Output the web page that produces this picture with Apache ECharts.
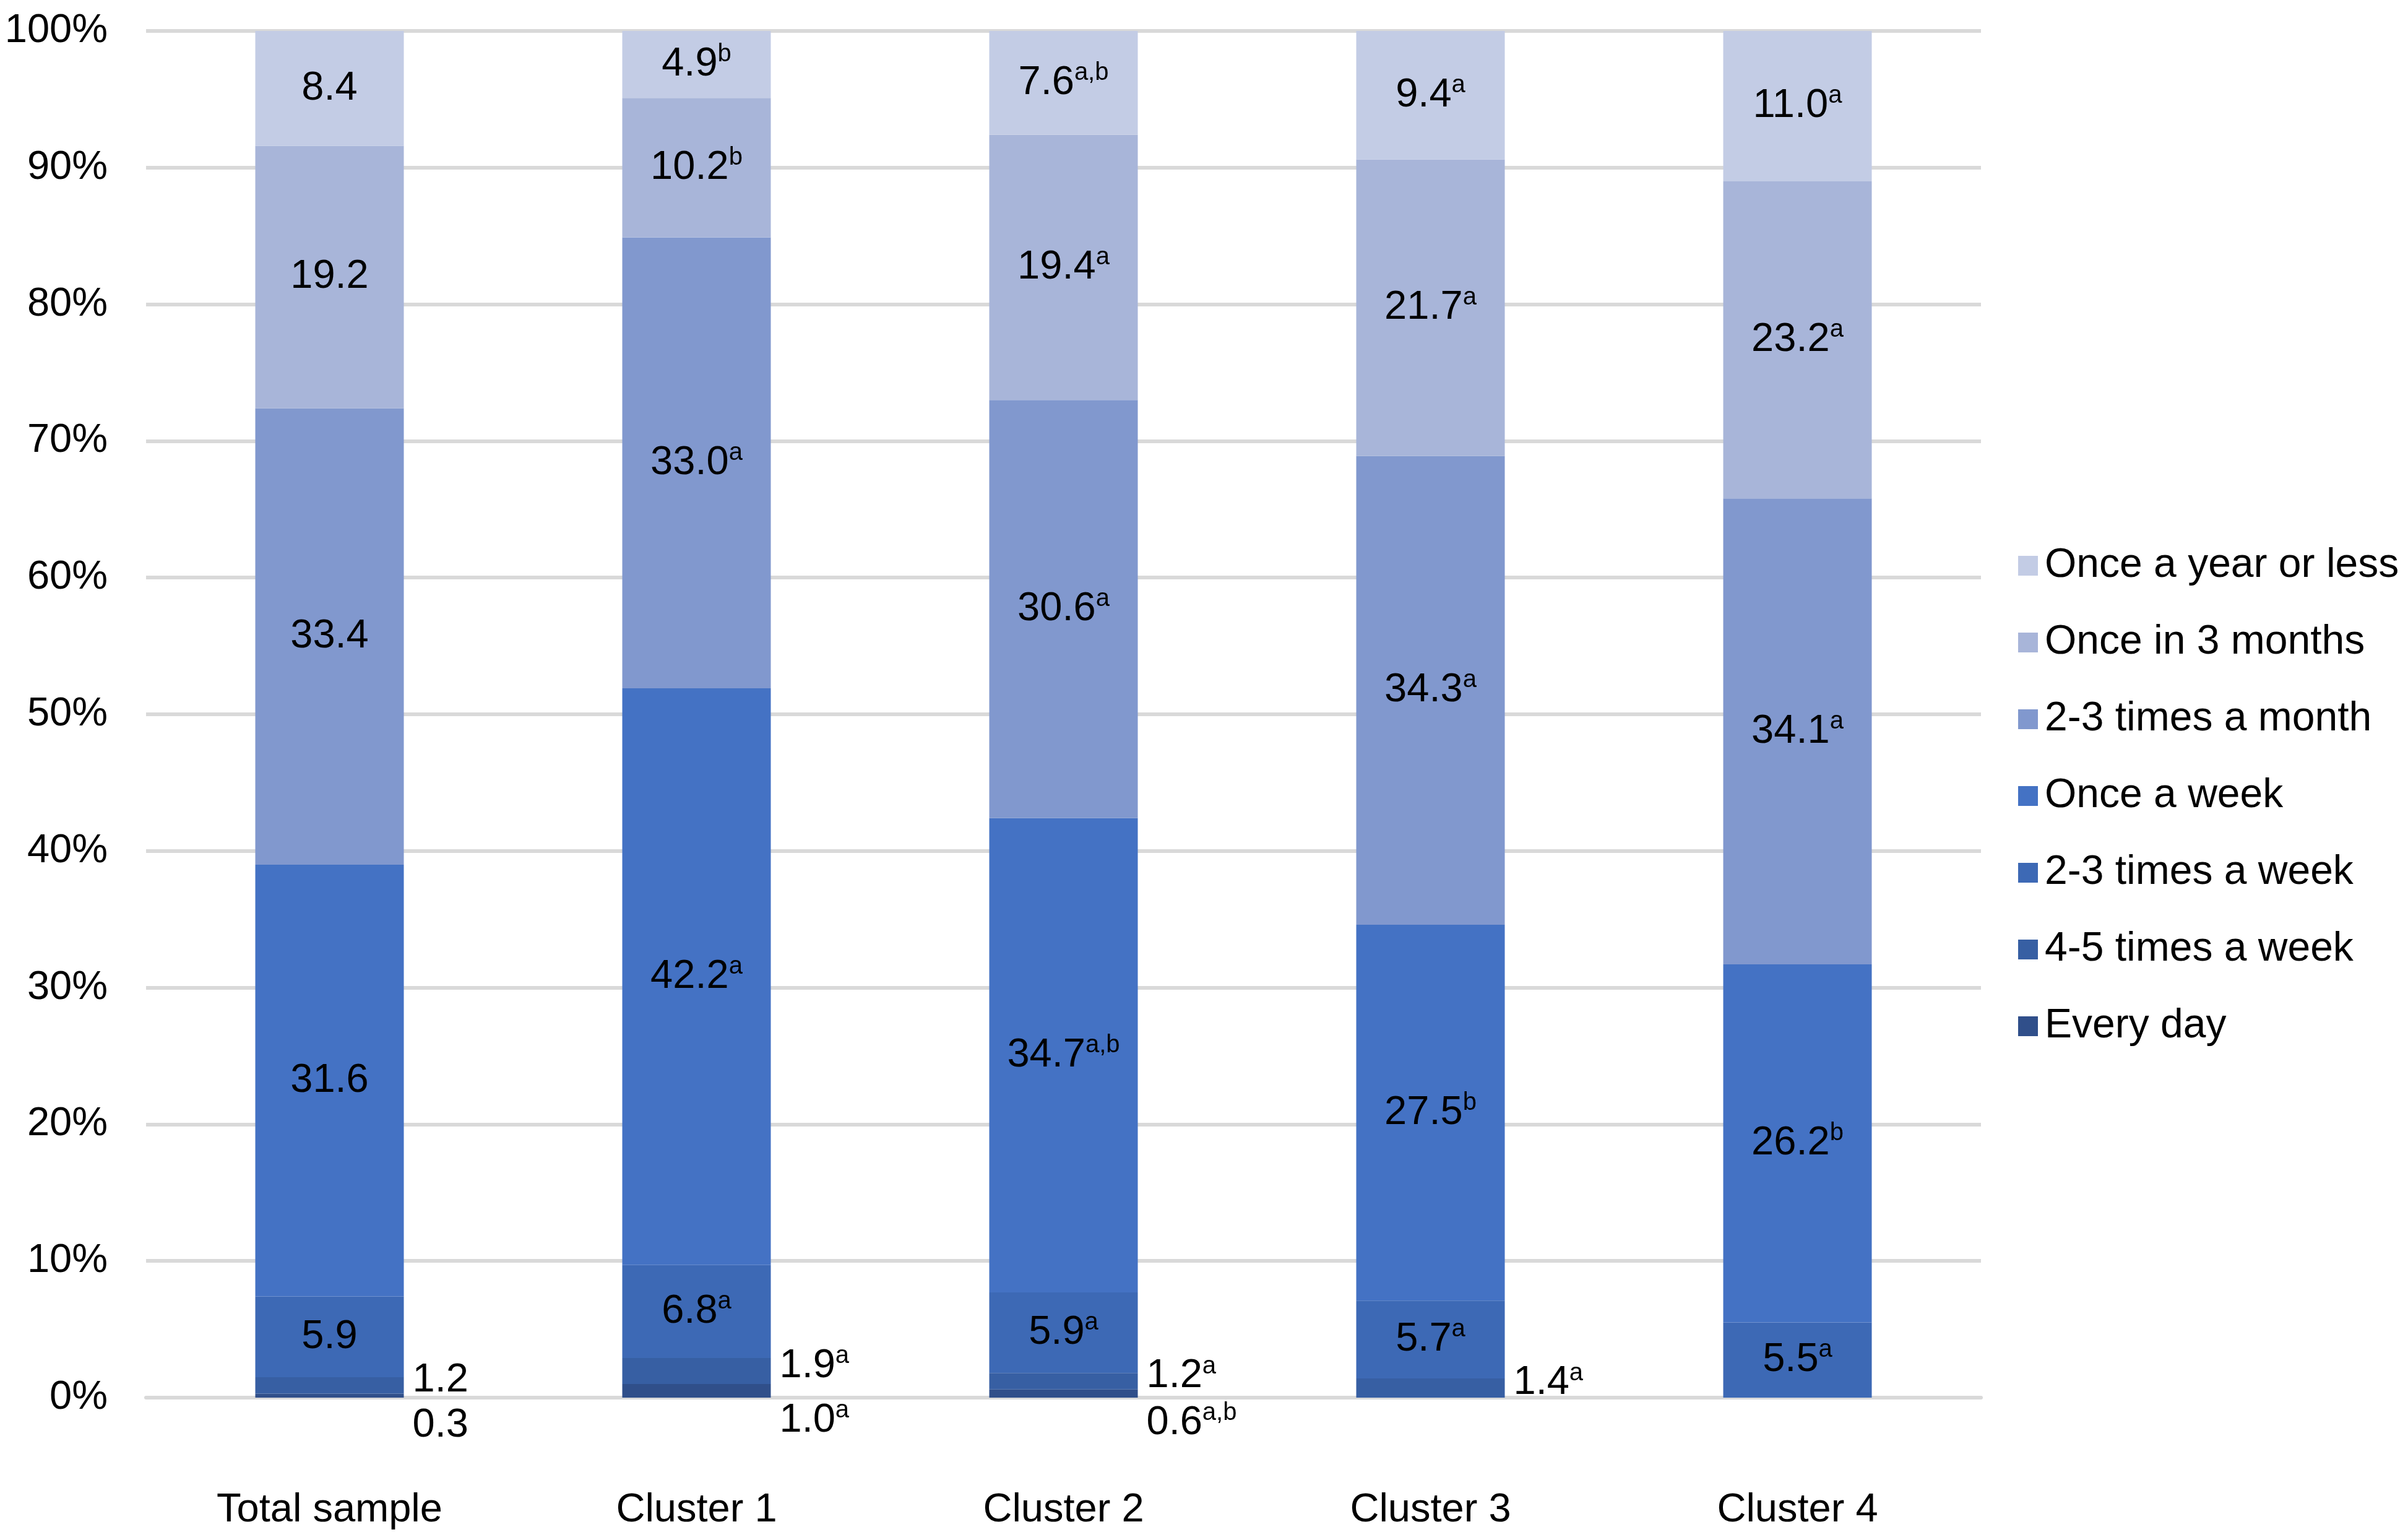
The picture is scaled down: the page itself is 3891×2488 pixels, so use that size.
<!DOCTYPE html>
<html>
<head>
<meta charset="utf-8">
<script src="https://cdn.jsdelivr.net/npm/echarts@6/dist/echarts.min.js"></script>
<style>
html,body{margin:0;padding:0;background:#fff;}
#chart{width:3891px;height:2488px;}
</style>
</head>
<body>
<div id="chart"></div>
<script>
const categories = ['Total sample', 'Cluster 1', 'Cluster 2', 'Cluster 3', 'Cluster 4'];
const seriesNames = ['Every day', '4-5 times a week', '2-3 times a week', 'Once a week', '2-3 times a month', 'Once in 3 months', 'Once a year or less'];

const everyDay      = [0.3, 1.0, 0.6, 0, 0];
const fourFiveWeek  = [1.2, 1.9, 1.2, 1.4, 0];
const twoThreeWeek  = [5.9, 6.8, 5.9, 5.7, 5.5];
const onceWeek      = [31.6, 42.2, 34.7, 27.5, 26.2];
const twoThreeMonth = [33.4, 33.0, 30.6, 34.3, 34.1];
const onceThreeMon  = [19.2, 10.2, 19.4, 21.7, 23.2];
const onceYear      = [8.4, 4.9, 7.6, 9.4, 11.0];

const supEveryDay      = ['', 'a', 'a,b', '', ''];
const supFourFiveWeek  = ['', 'a', 'a', 'a', ''];
const supTwoThreeWeek  = ['', 'a', 'a', 'a', 'a'];
const supOnceWeek      = ['', 'a', 'a,b', 'b', 'b'];
const supTwoThreeMonth = ['', 'a', 'a', 'a', 'a'];
const supOnceThreeMon  = ['', 'b', 'a', 'a', 'a'];
const supOnceYear      = ['', 'b', 'a,b', 'a', 'a'];

const yTicks = [0, 10, 20, 30, 40, 50, 60, 70, 80, 90, 100];

const values = [everyDay, fourFiveWeek, twoThreeWeek, onceWeek, twoThreeMonth, onceThreeMon, onceYear];
const sups = [supEveryDay, supFourFiveWeek, supTwoThreeWeek, supOnceWeek, supTwoThreeMonth, supOnceThreeMon, supOnceYear];
const colors = ['#304F8A', '#375FA3', '#3D69B5', '#4472C4', '#8198CE', '#A8B5D9', '#C3CCE5'];

const FONT = 'Liberation Sans, Arial, sans-serif';
const rich = {
  v: {fontSize: 65, fontFamily: FONT, color: '#000', lineHeight: 72},
  s: {fontSize: 40, fontFamily: FONT, color: '#000', lineHeight: 40, verticalAlign: 'top'}
};

function makeLabel(i) {
  const base = {
    show: true,
    rich: rich,
    formatter: function (p) {
      if (!p.value) return '';
      const s = sups[i][p.dataIndex];
      const t = '{v|' + Number(p.value).toFixed(1) + '}';
      return s ? t + '{s|' + s + '}' : t;
    }
  };
  if (i === 0) {
    return Object.assign(base, {position: 'right', distance: 14, offset: [0, 48]});
  }
  if (i === 1) {
    return Object.assign(base, {position: 'right', distance: 14, offset: [0, -8]});
  }
  return Object.assign(base, {position: 'inside'});
}

const series = seriesNames.map(function (name, i) {
  return {
    name: name,
    type: 'bar',
    stack: 'total',
    barWidth: 240,
    data: values[i],
    itemStyle: {color: colors[i]},
    label: makeLabel(i),
    emphasis: {disabled: true}
  };
});

const chart = echarts.init(document.getElementById('chart'), null, {renderer: 'canvas'});
chart.setOption({
  animation: false,
  backgroundColor: '#fff',
  grid: {left: 236, right: 690, top: 50, bottom: 230, containLabel: false},
  legend: {
    orient: 'vertical',
    left: 3256,
    top: 874,
    itemWidth: 32,
    itemHeight: 32,
    itemGap: 54,
    icon: 'rect',
    data: seriesNames.slice().reverse(),
    textStyle: {fontSize: 66, fontFamily: FONT, color: '#000', lineHeight: 70, padding: [0, 0, 0, 6]}
  },
  xAxis: {
    type: 'category',
    data: categories,
    axisLine: {show: true, lineStyle: {color: '#D9D9D9', width: 6}},
    axisTick: {show: false},
    axisLabel: {fontSize: 65, fontFamily: FONT, color: '#000', margin: 150}
  },
  yAxis: {
    type: 'value',
    min: yTicks[0],
    max: yTicks[yTicks.length - 1],
    interval: 10,
    axisLine: {show: false},
    axisTick: {show: false},
    splitLine: {lineStyle: {color: '#D9D9D9', width: 6}},
    axisLabel: {fontSize: 65, fontFamily: FONT, color: '#000', margin: 62, formatter: '{value}%'}
  },
  series: series
});
</script>
</body>
</html>
